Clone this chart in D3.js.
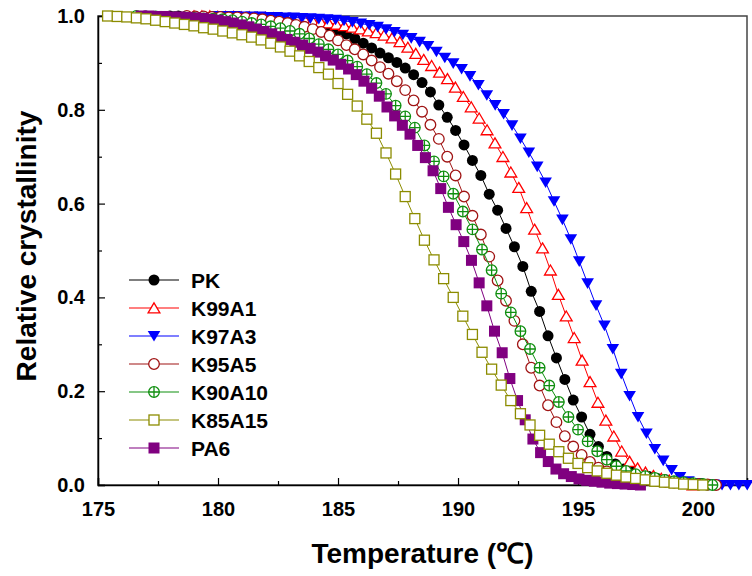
<!DOCTYPE html>
<html>
<head>
<meta charset="utf-8">
<script src="https://cdn.jsdelivr.net/npm/d3@7"></script>
<style>
  body { margin: 0; background: #fff; }
  text { font-family: "Liberation Sans", Arial, sans-serif; font-weight: bold; fill: #000; }
</style>
</head>
<body>
<svg id="chart"></svg>
<script>
const seriesNames = ["PK", "K99A1", "K97A3", "K95A5", "K90A10", "K85A15", "PA6"];
// each run is sampled at a constant cooling step: first temperature and step (°C)
const startT = [178.0, 179.0, 180.0, 178.7, 176.6, 175.4, 176.8];
const stepT  = [0.35, 0.33, 0.35, 0.35, 0.40, 0.40, 0.32];

const pk = [1.000,1.000,0.999,0.999,0.999,0.998,0.998,0.997,0.996,0.995,
  0.994,0.993,0.992,0.991,0.989,0.987,0.985,0.982,0.979,0.975,
  0.970,0.962,0.952,0.942,0.932,0.921,0.911,0.901,0.889,0.875,
  0.858,0.838,0.810,0.784,0.756,0.725,0.692,0.660,0.620,0.586,
  0.547,0.508,0.466,0.413,0.370,0.318,0.271,0.225,0.181,0.145,
  0.108,0.082,0.061,0.045,0.034,0.027,0.022,0.018,0.014,0.011,
  0.008,0.006,0.004,0.002,0.000];
const k99a1 = [1.000,1.000,1.000,0.999,0.999,0.999,0.998,0.998,0.997,0.997,
  0.996,0.995,0.994,0.993,0.991,0.989,0.987,0.985,0.982,0.979,
  0.976,0.972,0.968,0.964,0.959,0.953,0.945,0.933,0.920,0.907,
  0.894,0.880,0.866,0.848,0.828,0.806,0.782,0.757,0.729,0.700,
  0.667,0.634,0.591,0.545,0.505,0.458,0.406,0.360,0.314,0.266,
  0.220,0.176,0.138,0.104,0.072,0.050,0.036,0.027,0.020,0.014,
  0.010,0.006,0.003,0.000];
const k97a3 = [1.000,1.000,1.000,0.999,0.999,0.999,0.998,0.998,0.997,0.997,
  0.996,0.995,0.994,0.993,0.992,0.990,0.987,0.984,0.981,0.977,
  0.972,0.966,0.960,0.953,0.945,0.936,0.924,0.911,0.899,0.887,
  0.872,0.853,0.831,0.810,0.791,0.767,0.739,0.709,0.679,0.645,
  0.605,0.566,0.524,0.477,0.430,0.383,0.340,0.290,0.237,0.190,
  0.145,0.110,0.077,0.052,0.032,0.017,0.008,0.004,0.002,0.001,
  0.000,0.000,0.000,0.000];
const k95a5 = [1.000,0.999,0.999,0.998,0.998,0.997,0.997,0.996,0.995,0.993,
  0.990,0.988,0.985,0.981,0.977,0.972,0.966,0.958,0.948,0.938,
  0.929,0.918,0.905,0.891,0.877,0.861,0.842,0.820,0.796,0.768,
  0.738,0.700,0.660,0.615,0.574,0.534,0.487,0.436,0.393,0.350,
  0.300,0.250,0.212,0.170,0.134,0.104,0.082,0.064,0.049,0.037,
  0.029,0.023,0.019,0.016,0.013,0.011,0.009,0.007,0.005,0.004,
  0.003,0.002,0.001,0.000];
const k90a10 = [1.000,0.999,0.999,0.998,0.998,0.997,0.996,0.995,0.994,0.993,
  0.991,0.988,0.985,0.982,0.978,0.974,0.968,0.962,0.952,0.940,
  0.929,0.918,0.905,0.892,0.876,0.857,0.834,0.809,0.786,0.762,
  0.724,0.690,0.658,0.621,0.583,0.545,0.502,0.458,0.408,0.368,
  0.328,0.290,0.250,0.212,0.177,0.145,0.118,0.093,0.072,0.054,
  0.040,0.030,0.023,0.019,0.015,0.011,0.008,0.006,0.004,0.002,
  0.000];
const k85a15 = [1.000,0.999,0.998,0.996,0.994,0.991,0.988,0.985,0.982,0.979,
  0.975,0.972,0.968,0.964,0.960,0.955,0.949,0.942,0.934,0.925,
  0.915,0.903,0.890,0.876,0.856,0.833,0.808,0.780,0.750,0.708,
  0.663,0.615,0.568,0.522,0.480,0.440,0.400,0.360,0.321,0.283,
  0.247,0.213,0.180,0.152,0.128,0.106,0.087,0.071,0.057,0.046,
  0.037,0.030,0.025,0.021,0.017,0.014,0.011,0.008,0.006,0.004,
  0.002,0.001,0.000];
const pa6 = [1.000,1.000,0.999,0.999,0.998,0.998,0.997,0.996,0.995,0.993,
  0.991,0.988,0.985,0.981,0.977,0.972,0.967,0.962,0.956,0.950,
  0.944,0.938,0.931,0.923,0.915,0.906,0.897,0.887,0.875,0.861,
  0.846,0.829,0.806,0.787,0.767,0.748,0.724,0.698,0.670,0.632,
  0.592,0.555,0.519,0.479,0.431,0.382,0.328,0.282,0.227,0.180,
  0.139,0.098,0.069,0.050,0.034,0.024,0.018,0.013,0.010,0.008,
  0.006,0.004,0.003,0.002,0.001,0.000];

const xTicks = [175, 180, 185, 190, 195, 200];
const xMinor = [177.5, 182.5, 187.5, 192.5, 197.5];
const yTicks = [0, 0.2, 0.4, 0.6, 0.8, 1.0];
const yMinor = [0.1, 0.3, 0.5, 0.7, 0.9];

const values = [pk, k99a1, k97a3, k95a5, k90a10, k85a15, pa6];
const colors = ["#000000", "#ff0000", "#0000ff", "#a01414", "#0f8f0f", "#8c8c00", "#800080"];
const shapes = ["circleFilled", "triUp", "triDown", "circleOpen", "circlePlus", "squareOpen", "squareFilled"];
const drawOrder = [0, 1, 2, 3, 4, 6, 5];

const W = 752, H = 576;
const plot = { left: 98, right: 747, top: 16, bottom: 485 };

const svg = d3.select("#chart").attr("width", W).attr("height", H);

const x = d3.scaleLinear().domain([175, 202.04]).range([plot.left, plot.right]);
const y = d3.scaleLinear().domain([0, 1]).range([plot.bottom, plot.top]);

const series = seriesNames.map((name, k) => ({
  name: name,
  color: colors[k],
  shape: shapes[k],
  points: values[k].map((v, i) => ({ t: startT[k] + i * stepT[k], v: v }))
}));

// frame
svg.append("rect")
  .attr("x", plot.left).attr("y", plot.top)
  .attr("width", plot.right - plot.left).attr("height", plot.bottom - plot.top)
  .attr("fill", "none").attr("stroke", "#444").attr("stroke-width", 1.5);

// axes, ticks pointing inward
const gx = svg.append("g").attr("transform", `translate(0,${plot.bottom})`)
  .call(d3.axisBottom(x).tickValues(xTicks).tickSize(-7).tickPadding(17).tickFormat(d3.format("d")));
const gxm = svg.append("g").attr("transform", `translate(0,${plot.bottom})`)
  .call(d3.axisBottom(x).tickValues(xMinor).tickSize(-4).tickFormat(""));
const gy = svg.append("g").attr("transform", `translate(${plot.left},0)`)
  .call(d3.axisLeft(y).tickValues(yTicks).tickSize(-7).tickPadding(13).tickFormat(d3.format(".1f")));
const gym = svg.append("g").attr("transform", `translate(${plot.left},0)`)
  .call(d3.axisLeft(y).tickValues(yMinor).tickSize(-4).tickFormat(""));

[gx, gy].forEach(g => {
  g.select(".domain").attr("stroke", "#000").attr("stroke-width", 1.5);
  g.selectAll(".tick line").attr("stroke", "#000").attr("stroke-width", 1.2);
  g.selectAll("text").style("font-size", "20px").attr("fill", "#000");
});
[gxm, gym].forEach(g => {
  g.select(".domain").remove();
  g.selectAll(".tick line").attr("stroke", "#000").attr("stroke-width", 1.2);
});

// axis titles
svg.append("text")
  .attr("x", (plot.left + plot.right) / 2).attr("y", 563)
  .attr("text-anchor", "middle").style("font-size", "28px")
  .text("Temperature (℃)");
svg.append("text")
  .attr("transform", "translate(36,246) rotate(-90)")
  .attr("text-anchor", "middle").style("font-size", "28px")
  .text("Relative crystallinity");

// marker symbols
function drawMarker(g, shape, color) {
  if (shape === "circleFilled") {
    g.append("circle").attr("r", 5.5).attr("fill", color);
  } else if (shape === "circleOpen") {
    g.append("circle").attr("r", 5.3).attr("fill", "#fff").attr("stroke", color).attr("stroke-width", 1.3);
  } else if (shape === "circlePlus") {
    g.append("circle").attr("r", 5.3).attr("fill", "#fff").attr("stroke", color).attr("stroke-width", 1.3);
    g.append("path").attr("d", "M-5.3,0H5.3M0,-5.3V5.3").attr("stroke", color).attr("stroke-width", 1.3);
  } else if (shape === "triUp") {
    g.append("path").attr("d", "M0,-5.2L5.9,4.8L-5.9,4.8Z")
      .attr("fill", "#fff").attr("stroke", color).attr("stroke-width", 1.3);
  } else if (shape === "triDown") {
    g.append("path").attr("d", "M-6.3,-5L6.3,-5L0,5.6Z").attr("fill", color);
  } else if (shape === "squareOpen") {
    g.append("rect").attr("x", -5).attr("y", -5).attr("width", 10).attr("height", 10)
      .attr("fill", "#fff").attr("stroke", color).attr("stroke-width", 1.3);
  } else if (shape === "squareFilled") {
    g.append("rect").attr("x", -5.5).attr("y", -5.5).attr("width", 11).attr("height", 11).attr("fill", color);
  }
}

const line = d3.line().x(d => x(d.t)).y(d => y(d.v));

drawOrder.forEach(k => {
  const s = series[k];
  const g = svg.append("g");
  g.append("path").datum(s.points)
    .attr("d", line).attr("fill", "none").attr("stroke", s.color).attr("stroke-width", 1);
  g.selectAll("g.pt").data(s.points).enter().append("g")
    .attr("class", "pt")
    .attr("transform", d => `translate(${x(d.t)},${y(d.v)})`)
    .each(function () { drawMarker(d3.select(this), s.shape, s.color); });
});

// legend
const legend = svg.append("g").attr("transform", "translate(129,280)");
series.forEach((s, k) => {
  const row = legend.append("g").attr("transform", `translate(0,${k * 28})`);
  row.append("line").attr("x1", 0).attr("x2", 50).attr("stroke", s.color).attr("stroke-width", 1.2);
  drawMarker(row.append("g").attr("transform", "translate(25,0)"), s.shape, s.color);
  row.append("text").attr("x", 62).attr("dy", "0.36em").style("font-size", "21px").text(s.name);
});
</script>
</body>
</html>
